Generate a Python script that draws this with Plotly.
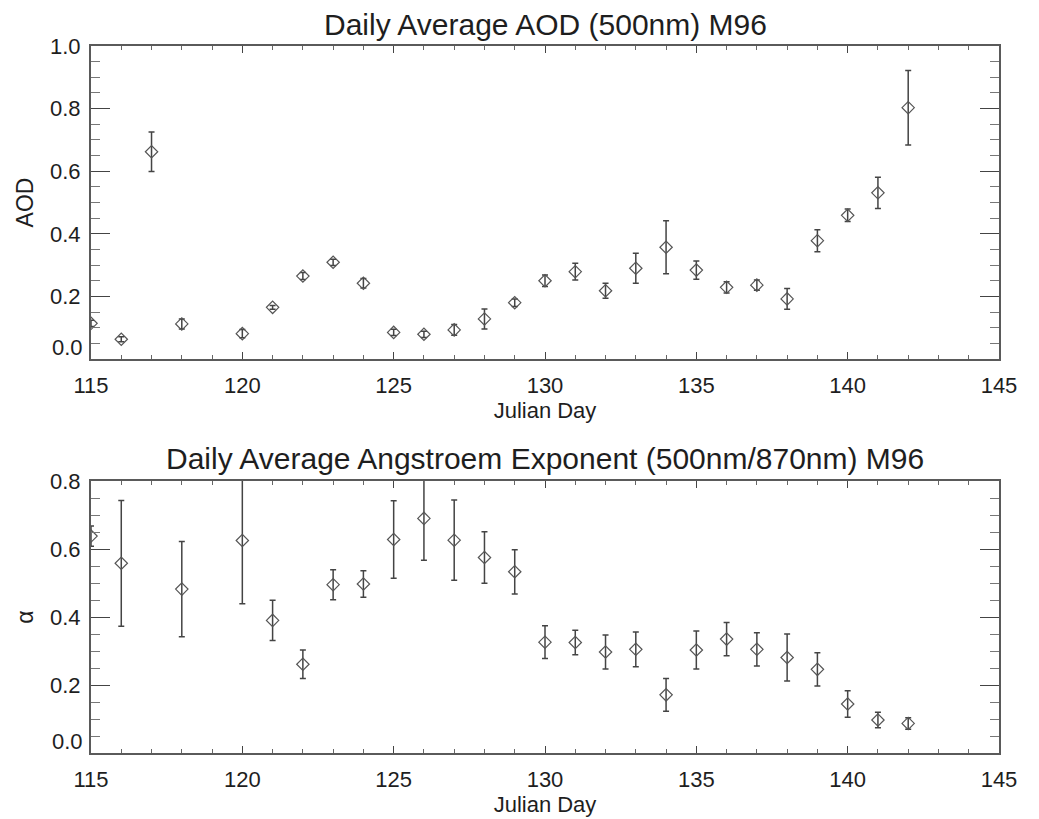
import plotly.graph_objects as go

# ---------------- data ----------------
days_aod = [115, 116, 117, 118, 120, 121, 122, 123, 124, 125, 126, 127, 128, 129,
            130, 131, 132, 133, 134, 135, 136, 137, 138, 139, 140, 141, 142]
aod = [0.114, 0.063, 0.662, 0.112, 0.081, 0.165, 0.265, 0.309, 0.242, 0.085, 0.079,
       0.093, 0.128, 0.180, 0.250, 0.279, 0.218, 0.290, 0.357, 0.284, 0.229, 0.236,
       0.192, 0.378, 0.459, 0.531, 0.803]
aod_err = [0.010, 0.008, 0.063, 0.016, 0.013, 0.006, 0.011, 0.010, 0.015, 0.010, 0.010,
           0.017, 0.032, 0.012, 0.018, 0.027, 0.024, 0.048, 0.085, 0.029, 0.018, 0.016,
           0.033, 0.035, 0.020, 0.050, 0.119]

days_alpha = [115, 116, 118, 120, 121, 122, 123, 124, 125, 126, 127, 128, 129,
              130, 131, 132, 133, 134, 135, 136, 137, 138, 139, 140, 141, 142]
alpha = [0.638, 0.558, 0.482, 0.625, 0.390, 0.261, 0.495, 0.497, 0.628, 0.690, 0.626,
         0.575, 0.533, 0.326, 0.325, 0.297, 0.305, 0.171, 0.303, 0.335, 0.305, 0.281,
         0.246, 0.144, 0.097, 0.087]
alpha_err = [0.030, 0.185, 0.140, 0.186, 0.059, 0.042, 0.044, 0.039, 0.114, 0.123, 0.118,
             0.076, 0.065, 0.048, 0.036, 0.050, 0.051, 0.048, 0.056, 0.049, 0.049, 0.069,
             0.049, 0.039, 0.023, 0.017]

x_ticks = [115, 120, 125, 130, 135, 140, 145]
top_yticks = [0.0, 0.2, 0.4, 0.6, 0.8, 1.0]
bot_yticks = [0.0, 0.2, 0.4, 0.6, 0.8]

title_top = "Daily Average AOD (500nm) M96"
title_bot = "Daily Average Angstroem Exponent (500nm/870nm) M96"
xlabel = "Julian Day"
ylabel_top = "AOD"
ylabel_bot = "α"

# ---------------- figure ----------------
W, H = 1039, 819
FONT = "Liberation Sans, Arial, sans-serif"
TXT = "#1e1e1e"
AX = "#5a5a5a"

xdom = [91 / W, 999 / W]
ydom_top = [1 - 359 / H, 1 - 46 / H]
ydom_bot = [1 - 753 / H, 1 - 481 / H]

fig = go.Figure()

marker = dict(symbol="diamond-open", size=9.5, color="#555555", line=dict(width=1.2, color="#555555"))

fig.add_trace(go.Scatter(
    x=days_aod, y=aod, mode="markers", marker=marker,
    error_y=dict(type="data", array=aod_err, visible=True, color="#444444", thickness=1.5, width=3),
    xaxis="x", yaxis="y", showlegend=False, cliponaxis=True))

fig.add_trace(go.Scatter(
    x=days_alpha, y=alpha, mode="markers", marker=marker,
    error_y=dict(type="data", array=alpha_err, visible=True, color="#444444", thickness=1.5, width=3),
    xaxis="x2", yaxis="y2", showlegend=False, cliponaxis=True))


def xaxis(anchor):
    return dict(
        domain=xdom, anchor=anchor, range=[115, 145], autorange=False,
        tickmode="array", tickvals=x_ticks, ticktext=[str(v) for v in x_ticks],
        ticks="inside", ticklen=7, tickwidth=1.2, tickcolor="#444444",
        minor=dict(dtick=1, tick0=115, ticks="inside", ticklen=4, tickcolor="#666666", tickwidth=1),
        showline=True, linecolor=AX, linewidth=2, mirror="ticks",
        showgrid=False, zeroline=False,
        tickfont=dict(family=FONT, size=22, color=TXT),
        ticklabelstandoff=6,
        title=dict(text=xlabel, font=dict(family=FONT, size=22, color=TXT), standoff=2),
        automargin=False,
    )


def yaxis(anchor, rng, ticks, label, dtick_minor):
    return dict(
        domain=ydom_top if anchor == "x" else ydom_bot,
        anchor=anchor, range=rng, autorange=False,
        tickmode="array", tickvals=ticks,
        ticktext=["" if v == 0 else f"{v:.1f}" for v in ticks],
        ticks="inside", ticklen=19, tickwidth=1.2, tickcolor="#444444",
        minor=dict(dtick=dtick_minor, tick0=0, ticks="inside", ticklen=9, tickcolor="#777777", tickwidth=1),
        showline=True, linecolor=AX, linewidth=2, mirror="ticks",
        showgrid=False, zeroline=False,
        tickfont=dict(family=FONT, size=22, color=TXT),
        ticklabelstandoff=4,
        title=dict(text=label, font=dict(family=FONT, size=23, color=TXT), standoff=10),
        automargin=False,
    )


fig.update_layout(
    width=W, height=H,
    margin=dict(l=0, r=0, t=0, b=0, pad=0),
    paper_bgcolor="white", plot_bgcolor="white",
    xaxis=xaxis("y"),
    yaxis=yaxis("x", [0, 1.0], top_yticks, ylabel_top, 0.05),
    xaxis2=xaxis("y2"),
    yaxis2=yaxis("x2", [0, 0.8], bot_yticks, ylabel_bot, 0.05),
)

# titles
fig.add_annotation(text=title_top, x=(xdom[0] + xdom[1]) / 2, y=1 - 24 / H, xref="paper", yref="paper",
                   xanchor="center", yanchor="middle", showarrow=False,
                   font=dict(family=FONT, size=30, color=TXT))
fig.add_annotation(text=title_bot, x=(xdom[0] + xdom[1]) / 2, y=1 - 458 / H, xref="paper", yref="paper",
                   xanchor="center", yanchor="middle", showarrow=False,
                   font=dict(family=FONT, size=30, color=TXT))

# "0.0" labels sit just above the bottom axis line, as in the original
fig.add_annotation(text=f"{top_yticks[0]:.1f}", x=xdom[0], y=top_yticks[0], xref="paper", yref="y",
                   xanchor="right", yanchor="bottom", xshift=-6, yshift=-3, showarrow=False,
                   font=dict(family=FONT, size=22, color=TXT))
fig.add_annotation(text=f"{bot_yticks[0]:.1f}", x=xdom[0], y=bot_yticks[0], xref="paper", yref="y2",
                   xanchor="right", yanchor="bottom", xshift=-6, yshift=-3, showarrow=False,
                   font=dict(family=FONT, size=22, color=TXT))

fig.write_html("out.html")
